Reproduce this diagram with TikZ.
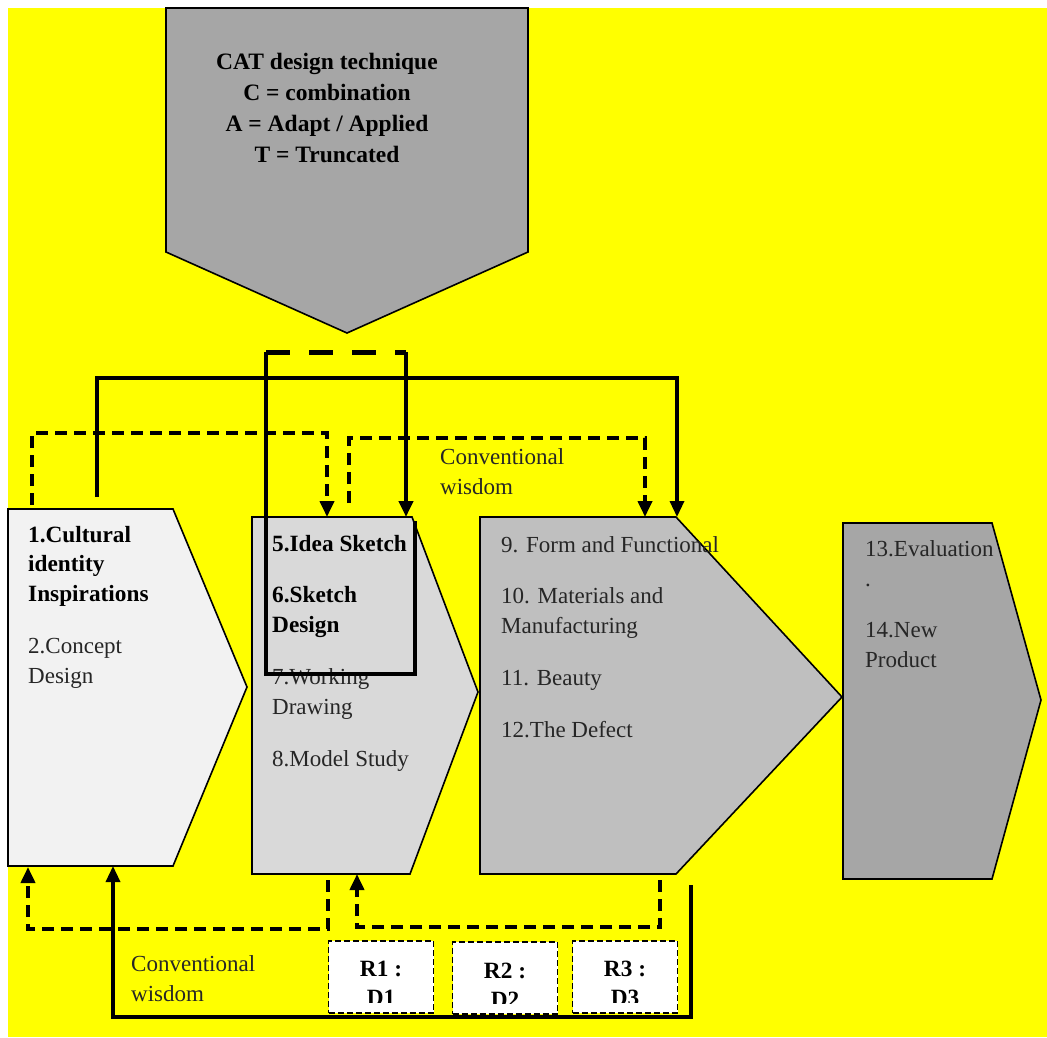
\documentclass[tikz,border=0pt]{standalone}
\usepackage{fontspec}
\setmainfont{Liberation Serif}
\usetikzlibrary{arrows.meta}
\definecolor{gA}{HTML}{A6A6A6}
\definecolor{gB}{HTML}{BFBFBF}
\definecolor{gC}{HTML}{D9D9D9}
\definecolor{gD}{HTML}{F2F2F2}
\definecolor{txtc}{HTML}{262626}
\definecolor{yel}{RGB}{255,255,0}
\begin{document}
\begin{tikzpicture}[x=1pt,y=-1pt,
  shp/.style={draw=black,line width=1.6pt,line join=miter},
  txt/.style={anchor=base west,inner sep=0pt,align=left,font=\fontsize{23}{29.5}\selectfont,text=txtc},
  btxt/.style={txt,font=\fontsize{23.3}{29.5}\selectfont\bfseries,text=black},
  sol/.style={line width=3.3pt},
  dsh/.style={line width=3.8pt,dash pattern=on 12pt off 7pt},
  tip/.style={-{Triangle[length=16pt,width=14pt]}},
  rbox/.style={draw=black,fill=white,line width=1.8pt,dash pattern=on 6pt off 3pt,minimum width=105pt,minimum height=72pt,inner sep=0pt},
]
\useasboundingbox (0,0) rectangle (1047,1037);
\fill[white] (0,0) rectangle (1047,1037);
\fill[yel] (8,8) rectangle (1047,1037);

% top pentagon
\draw[shp,fill=gA] (166,8) -- (528,8) -- (528,252) -- (347,333) -- (166,252) -- cycle;
\node[anchor=base,inner sep=0pt,align=center,font=\fontsize{23.5}{30.7}\selectfont\bfseries] (cat) at (327,162)
  {CAT design technique\\C = combination\\A = Adapt / Applied\\T = Truncated};

% process shapes
\draw[shp,fill=gD] (8,509) -- (173,509) -- (247,687) -- (173,866) -- (8,866) -- cycle;
\draw[shp,fill=gC] (252,517) -- (412,517) -- (478,692) -- (410,874) -- (252,874) -- cycle;
\draw[shp,fill=gB] (480,517) -- (676,517) -- (842,697) -- (676,874) -- (480,874) -- cycle;
\draw[shp,fill=gA] (843,523) -- (992,523) -- (1041,700) -- (992,879) -- (843,879) -- cycle;

% shape texts (base anchor = last line's baseline)
\node[btxt] (t1) at (28,601) {1.Cultural\\identity\\Inspirations};
\node[txt] (t2) at (28,683) {2.Concept\\Design};
\node[btxt] (t5) at (272,551) {5.Idea Sketch};
\node[btxt] (t6) at (272,632) {6.Sketch\\Design};
\node[txt] (t7) at (272,714) {7.Working\\Drawing};
\node[txt] (t8) at (272,766) {8.Model Study};
\node[txt] (t9) at (501,552) {9. Form and Functional};
\node[txt] (t10) at (501,633) {10. Materials and\\Manufacturing};
\node[txt] (t11) at (501,685) {11. Beauty};
\node[txt] (t12) at (501,737) {12.The Defect};
\node[txt] (t13) at (865,586) {13.Evaluation\\.};
\node[txt] (t14) at (865,667) {14.New\\Product};

\node[txt] (cw1) at (440,494) {Conventional\\wisdom};
\node[txt] (cw2) at (131,1001) {Conventional\\wisdom};

% top connectors
\coordinate (a1s) at (32,505);
\coordinate (a1e) at (327,517);
\draw[dsh,tip] (a1s) -- (32,433) -- (327,433) -- (a1e);
\coordinate (a2s) at (97,497);
\coordinate (a2e) at (677,517);
\draw[sol,tip] (a2s) -- (97,378) -- (677,378) -- (a2e);
\coordinate (a4s) at (349,503);
\coordinate (a4e) at (645,517);
\draw[dsh,tip] (a4s) -- (349,438) -- (645,438) -- (a4e);

% thick box and loop
\coordinate (bx1) at (266,352);
\coordinate (bx2) at (406,352);
\coordinate (bxe) at (406,517);
\draw[line width=4.6pt,line join=miter] (bx1) -- (266,674) -- (415,674) -- (415,521);
\draw[line width=5pt,dash pattern=on 24pt off 19pt] (bx1) -- (bx2);
\draw[line width=4.6pt,tip] (bx2) -- (bxe);

% bottom connectors
\coordinate (b1s) at (328,880);
\coordinate (b1e) at (28,867);
\draw[dsh,tip] (b1s) -- (328,929) -- (28,929) -- (b1e);
\coordinate (b2s) at (691,885);
\coordinate (b2e) at (113,866);
\draw[sol,tip] (b2s) -- (691,1017) -- (113,1017) -- (b2e);
\coordinate (b3s) at (660,880);
\coordinate (b3e) at (357,874);
\draw[dsh,tip] (b3s) -- (660,927) -- (357,927) -- (b3e);

% R boxes
\node[rbox] (r1) at (381,977) {};
\node[rbox] (r2) at (505,978) {};
\node[rbox] (r3) at (625,977) {};
\begin{scope}
  \clip (r1.north west) rectangle ([yshift=11pt]r1.south east);
  \node[btxt,anchor=base,align=center] (r1t) at (381,1005.5) {R1 :\\D1};
\end{scope}
\begin{scope}
  \clip (r2.north west) rectangle ([yshift=11pt]r2.south east);
  \node[btxt,anchor=base,align=center] (r2t) at (505,1007.5) {R2 :\\D2};
\end{scope}
\begin{scope}
  \clip (r3.north west) rectangle ([yshift=11pt]r3.south east);
  \node[btxt,anchor=base,align=center] (r3t) at (625,1005.5) {R3 :\\D3};
\end{scope}
\end{tikzpicture}
\end{document}
